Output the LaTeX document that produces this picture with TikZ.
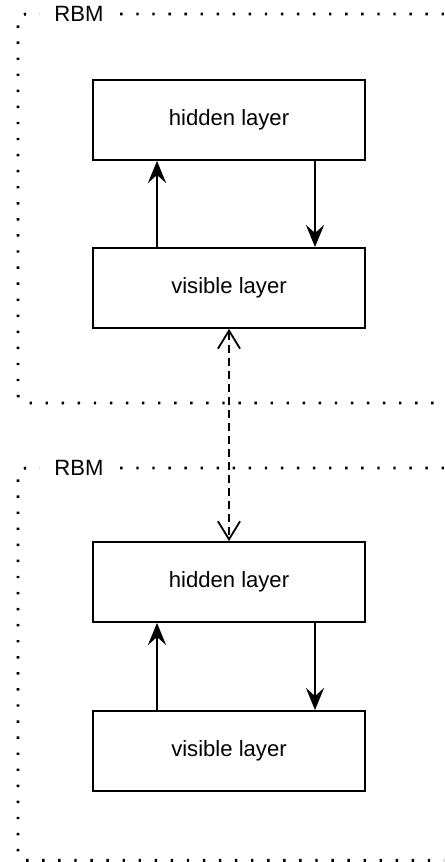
\documentclass[tikz,border=0pt]{standalone}
\usepackage{fontspec}
\setmainfont{Liberation Sans}
\usetikzlibrary{arrows.meta}

\tikzset{
  layerbox/.style={draw, line width=0.9pt, minimum width=4.76cm, minimum height=1.4cm, font=\fontsize{11}{13}\selectfont},
  rbmframe/.style={line width=1.4pt, dash pattern=on 1.2pt off 6.8pt, rounded corners=4pt},
  rbmlabel/.style={fill=white, inner xsep=7pt, inner ysep=2pt, font=\fontsize{11}{13}\selectfont},
  pass/.style={line width=0.9pt, -{Stealth[length=11pt,width=9pt,inset=4pt]}},
  link/.style={line width=0.9pt, dash pattern=on 4pt off 2.5pt, {Straight Barb[length=9pt,width=11pt]}-{Straight Barb[length=9pt,width=11pt]}}
}

\begin{document}
\begin{tikzpicture}[x=0.35cm, y=0.35cm]
\clip (0,0) rectangle (22.2,43.1);
% first RBM
\draw[rbmframe] (23,42.4) -| (0.9,22.95) -- (23,22.95);
\node[rbmlabel] (rbmA) at (3.95,42.4) {RBM};
\node[layerbox] (hidA) at (11.45,37.1) {hidden layer};
\node[layerbox] (visA) at (11.45,28.7) {visible layer};
\draw[pass] ([xshift=-1.26cm]visA.north) -- ([xshift=-1.26cm]hidA.south);
\draw[pass] ([xshift=1.505cm]hidA.south) -- ([xshift=1.505cm]visA.north);
% second RBM
\draw[rbmframe] (23,19.7) -| (0.9,0.08) -- (23,0.08);
\node[rbmlabel] (rbmB) at (3.95,19.7) {RBM};
\node[layerbox] (hidB) at (11.45,14.0) {hidden layer};
\node[layerbox] (visB) at (11.45,5.55) {visible layer};
\draw[pass] ([xshift=-1.26cm]visB.north) -- ([xshift=-1.26cm]hidB.south);
\draw[pass] ([xshift=1.505cm]hidB.south) -- ([xshift=1.505cm]visB.north);
% between the two
\draw[link] (visA.south) -- (hidB.north);
\end{tikzpicture}
\end{document}
